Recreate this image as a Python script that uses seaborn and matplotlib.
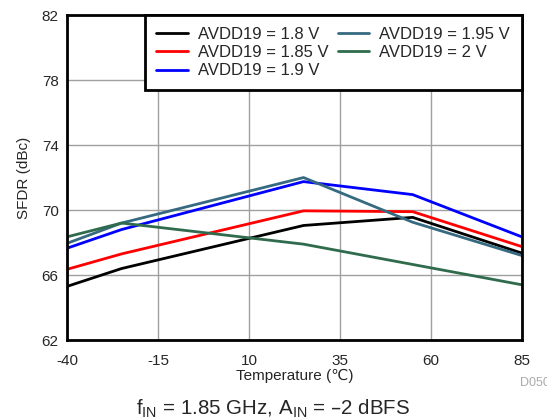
import numpy as np
import pandas as pd
import matplotlib
matplotlib.use("Agg")
import matplotlib.pyplot as plt
import seaborn as sns

sns.set_theme(style="white")
plt.rcParams['font.family'] = ['Liberation Sans', 'DejaVu Sans']
plt.rcParams['axes.unicode_minus'] = False

# Data
temps = [-40, -25, 25, 55, 85]
sfdr_180 = [65.3, 66.4, 69.05, 69.55, 67.35]
sfdr_185 = [66.35, 67.3, 69.95, 69.9, 67.75]
sfdr_190 = [67.65, 68.8, 71.75, 70.95, 68.35]
sfdr_195 = [67.95, 69.2, 72.0, 69.25, 67.2]
sfdr_200 = [68.35, 69.2, 67.9, 66.65, 65.4]

labels = ['AVDD19 = 1.8 V', 'AVDD19 = 1.85 V', 'AVDD19 = 1.9 V',
          'AVDD19 = 1.95 V', 'AVDD19 = 2 V']
colors = ['#000000', '#FF0000', '#0000FF', '#356A80', '#2F6B4C']

series = [sfdr_180, sfdr_185, sfdr_190, sfdr_195, sfdr_200]
df = pd.DataFrame({
    'temp': temps * len(series),
    'sfdr': [v for s in series for v in s],
    'supply': [lab for lab in labels for _ in temps],
})

fig = plt.figure(figsize=(5.47, 4.19), dpi=100)
ax = fig.add_axes([0.1225, 0.1885, 0.8315, 0.7755])

sns.lineplot(data=df, x='temp', y='sfdr', hue='supply', hue_order=labels,
             palette=colors, linewidth=2, ax=ax, legend=True)

ax.set_xlim(-40, 85)
ax.set_ylim(62, 82)
ax.set_xticks(np.arange(-40, 86, 25))
ax.set_yticks(np.arange(62, 83, 4))
ax.grid(True, color='#a0a0a0', linewidth=1)
ax.tick_params(labelsize=11, length=0)
ax.tick_params(axis='x', pad=10)
ax.tick_params(axis='y', pad=6)
for sp in ax.spines.values():
    sp.set_color('black')
    sp.set_linewidth(2)

ax.set_xlabel('Temperature (\u2103)', fontsize=11, labelpad=1)
ax.set_ylabel('SFDR (dBc)', fontsize=11, labelpad=8)

leg = ax.legend(title=None, loc='upper right', ncol=2, fontsize=12,
                frameon=True, fancybox=False, borderaxespad=0,
                handlelength=1.9, columnspacing=0.55, handletextpad=0.6,
                labelspacing=0.2, borderpad=0.7)
leg.get_frame().set_edgecolor('black')
leg.get_frame().set_linewidth(2)
leg.get_frame().set_alpha(1)

fig.text(0.951, 0.078, 'D050', fontsize=9, color='#aaaaaa', ha='left')
fig.text(0.5, 0.012, 'f$_{\\mathregular{IN}}$ = 1.85 GHz, A$_{\\mathregular{IN}}$ = \u20132 dBFS',
         fontsize=14.8, ha='center')

fig.savefig('out.png', dpi=100)
